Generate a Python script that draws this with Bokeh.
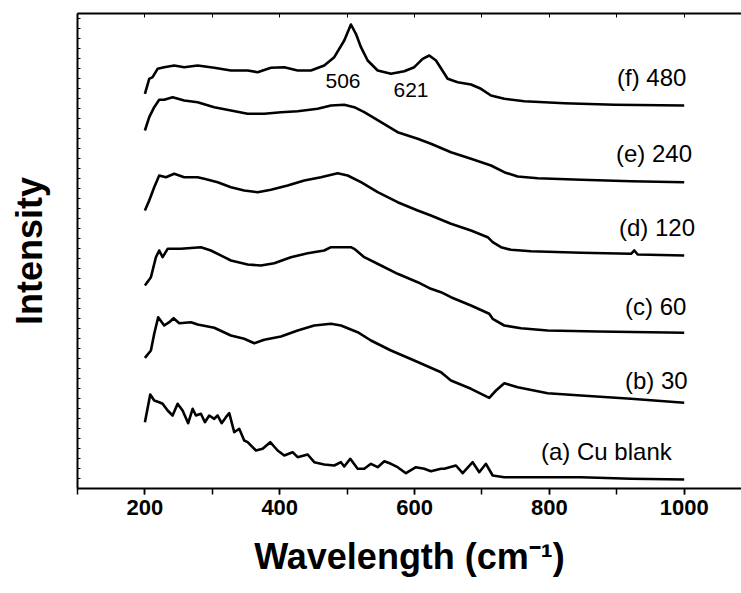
from bokeh.core.properties import value
from bokeh.embed import file_html
from bokeh.models import FixedTicker, LinearAxis, Range1d
from bokeh.plotting import figure
from bokeh.resources import INLINE

# Raman spectra of Cu samples (arbitrary intensity units, curves already offset)
wn_a = [200, 207.9, 213.8, 221.2, 226.3, 233.7, 241.1, 248.5, 255.9, 264.2, 270.8, 275.7,
        283.1, 289, 295.4, 302.8, 307.9, 313.8, 320.2, 325.1, 332.5, 339.9, 347.3, 352.4,
        364.7, 374.6, 385.9, 396.9, 406.7, 419.1, 426.6, 441.4, 451.2, 466, 480.9, 490.8,
        495.7, 504.6, 515.6, 525.4, 535.3, 545.3, 555.1, 565, 574.9, 587.2, 602.1, 614.4,
        624.3, 639.2, 644.1, 661.4, 671.4, 686.2, 696, 705.9, 715.9, 733.1, 772.7, 846.9,
        921.1, 1000]
int_a = [66.3, 94, 88, 86.3, 84.7, 78, 73, 84.7, 78, 65.3, 79.7, 73,
         74.7, 66.3, 73, 69.7, 73, 65.3, 71.3, 75.3, 56.3, 59.7, 48, 46.3,
         38, 39.7, 46.3, 38, 33, 36.3, 31.3, 34, 26.3, 24, 23, 26.3,
         22, 29.7, 19.7, 19.7, 24.7, 21.3, 27.3, 24.7, 21.3, 15.3, 21.3, 19.7,
         17.3, 19.7, 19.7, 23, 15.3, 26.3, 16.3, 24.7, 13, 11.3, 11.3, 11.3,
         9.7, 9]

wn_b = [200, 208.9, 213.8, 219.7, 228.6, 236.1, 242.6, 250.9, 268.3, 278.2, 302.8, 327.6,
        347.3, 362.2, 377, 401.8, 426.6, 451.2, 476, 490.8, 515.6, 535.3, 565, 599.6,
        639.2, 654, 683.7, 710.8, 720.8, 733.1, 753, 797.5, 846.9, 921.1, 1000]
int_b = [130.7, 138, 154.7, 171.3, 163, 166.3, 170.3, 165.3, 166.3, 164, 160.7, 153,
         149.7, 145.3, 148.7, 152, 158, 163, 164.7, 163, 156.3, 148, 138, 128,
         116.3, 108, 99.7, 90.7, 98, 105.3, 101.3, 95.3, 93, 89.7, 85.7]

wn_c = [200, 208.9, 216.3, 221.2, 226.3, 233.7, 253.4, 283.1, 297.9, 317.7, 327.6, 352.4,
        372.1, 391.8, 416.6, 441.4, 466, 476, 505.6, 510.5, 525.4, 550.2, 574.9, 604.6,
        624.3, 639.2, 654, 683.7, 710.8, 715.9, 733.1, 757.9, 797.5, 871.7, 1000]
int_c = [203, 211.3, 231.3, 238, 231.3, 239.7, 239.7, 241.3, 238, 231.3, 228, 224,
         223, 225.3, 231.3, 235.3, 238, 241.3, 241.3, 239.7, 231.3, 223, 214.7, 206.3,
         199.7, 196.3, 191.3, 183, 174.7, 169.7, 163, 160.3, 158, 157, 155.7]

wn_d = [200, 206.4, 213.8, 221.2, 231.2, 243.5, 258.3, 278.2, 288, 307.9, 327.6, 347.3,
        367.2, 387, 411.7, 436.4, 461.1, 485.9, 500.7, 520.5, 545.3, 574.9, 604.6, 624.3,
        654, 683.7, 708.5, 715.9, 728.2, 743, 772.7, 846.9, 921.1, 926, 931, 1000]
int_d = [278, 288, 301.3, 313, 311.3, 314.7, 311.3, 311.3, 309.7, 306.3, 301.3, 298,
         296.3, 298.7, 303, 308, 311.3, 315.3, 313, 306.3, 296.3, 286.3, 278, 273,
         264.7, 258, 251.3, 246.3, 241.3, 238.7, 237.3, 235.7, 234.7, 238, 234, 233]

wn_e = [200, 206.4, 213.8, 221.2, 228.6, 241.1, 258.3, 278.2, 302.8, 327.6, 352.4, 377,
        401.8, 426.6, 456.2, 476, 495.7, 510.5, 525.4, 550.2, 574.9, 604.6, 624.3, 654,
        683.7, 713.4, 733.1, 753, 782.6, 846.9, 921.1, 1000]
int_e = [358, 371.3, 381.3, 388.7, 388.7, 391.3, 388, 386.3, 381.3, 378, 374.7, 374.7,
         376.3, 377.3, 379.7, 383, 383.7, 381.3, 376.3, 366.3, 356.3, 349.7, 344.7, 336.3,
         329.7, 323, 316.3, 312, 310.3, 308.7, 307.3, 306.3]

wn_f = [200, 206.4, 211.4, 218.8, 228.6, 243.5, 258.3, 278.2, 302.8, 327.6, 352.4, 367.2,
        387, 406.7, 426.6, 446.3, 466, 480.9, 495.7, 505.6, 513, 520.5, 530.4, 545.3,
        565, 584.7, 599.6, 612, 621.8, 631.8, 649.1, 664, 683.7, 698.5, 713.4, 733.1,
        762.8, 822.1, 896.3, 1000]
int_f = [394.7, 409.7, 411.3, 419.7, 421.3, 423, 421.3, 423, 420.7, 418, 418, 416.3,
         420.7, 421.3, 418, 418, 423, 431.3, 448, 464, 454.7, 441.3, 428, 418,
         414.7, 417.3, 421.3, 429.7, 433, 428, 409.7, 406.3, 404, 399.7, 393, 389.7,
         387.3, 385.3, 383.7, 383]

series = [(wn_a, int_a), (wn_b, int_b), (wn_c, int_c),
          (wn_d, int_d), (wn_e, int_e), (wn_f, int_f)]

# curve labels (left edge, vertical centre)
curve_names = ["(a) Cu blank", "(b) 30", "(c) 60", "(d) 120", "(e) 240", "(f) 480"]
curve_name_x = [787.6, 912.2, 912.2, 903.3, 898.8, 900.3]
curve_name_y = [37, 108, 182, 261, 335, 411]

# peak positions marked on curve (f)
peak_text = ["506", "621"]
peak_x = [493.8, 594.7]
peak_y = [407.5, 398.5]

x_major = [200, 400, 600, 800, 1000]
x_minor = list(range(100, 1101, 100))
y_ticks = list(range(0, 476, 10))

FONT = "Liberation Sans"

p = figure(width=741, height=593, output_backend="svg", toolbar_location=None,
           x_range=Range1d(100, 1085), y_range=Range1d(0, 475),
           x_axis_location=None, y_axis_location=None,
           min_border_left=77, min_border_right=0, min_border_top=13,
           min_border_bottom=105)
p.outline_line_color = None
p.grid.visible = False
p.background_fill_color = "white"
p.border_fill_color = "white"

bottom = LinearAxis(ticker=FixedTicker(ticks=x_major, minor_ticks=x_minor))
bottom.axis_line_width = 2
bottom.major_tick_in = 0
bottom.major_tick_out = 6
bottom.minor_tick_in = 0
bottom.minor_tick_out = 6
bottom.major_tick_line_width = 1.5
bottom.minor_tick_line_width = 1.5
bottom.major_label_text_font = FONT
bottom.major_label_text_font_style = "bold"
bottom.major_label_text_font_size = "22px"
bottom.major_label_text_color = "black"
bottom.major_label_standoff = 5
bottom.axis_label = "Wavelength (cm\u207b\u00b9)"
bottom.axis_label_text_font = FONT
bottom.axis_label_text_font_style = "bold"
bottom.axis_label_text_font_size = "36px"
bottom.axis_label_text_color = "black"
bottom.axis_label_standoff = 18
p.add_layout(bottom, "below")

# top border: inward ticks only, no labels
top = LinearAxis(ticker=FixedTicker(ticks=[], minor_ticks=x_minor))
top.axis_line_width = 2
top.minor_tick_in = 4
top.minor_tick_out = 0
top.minor_tick_line_width = 1
p.add_layout(top, "above")

# left axis: dense inward ticks, no labels
left = LinearAxis(ticker=FixedTicker(ticks=[], minor_ticks=y_ticks))
left.axis_line_width = 2
left.minor_tick_in = 3
left.minor_tick_out = 0
left.minor_tick_line_width = 1
left.axis_label = "Intensity"
left.axis_label_text_font = FONT
left.axis_label_text_font_style = "bold"
left.axis_label_text_font_size = "36px"
left.axis_label_text_color = "black"
left.axis_label_standoff = 28
p.add_layout(left, "left")

for xs, ys in series:
    p.line(xs, ys, line_color="black", line_width=2.6, line_join="round")

p.text(x=curve_name_x, y=curve_name_y, text=curve_names,
       text_font=value(FONT), text_font_size="24px", text_color="black",
       text_align="left", text_baseline="middle")
p.text(x=peak_x, y=peak_y, text=peak_text,
       text_font=value(FONT), text_font_size="21px", text_color="black",
       text_align="center", text_baseline="middle")

open("out.html", "w").write(file_html(p, INLINE))
